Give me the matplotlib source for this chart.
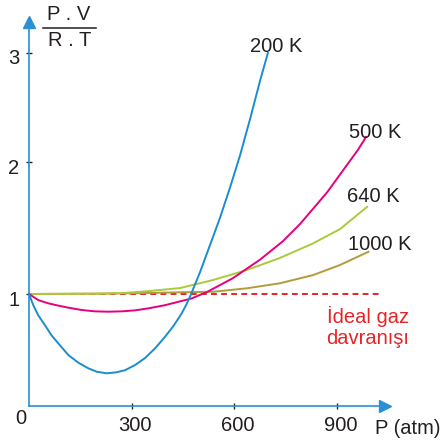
import numpy as np
import matplotlib
matplotlib.use("Agg")
import matplotlib.pyplot as plt
from matplotlib.transforms import ScaledTranslation
from matplotlib.lines import Line2D

plt.rcParams['font.family'] = ['Liberation Sans', 'DejaVu Sans']

# P (atm) and P.V/(R.T)
p_200 = [0, 12.6, 27, 47, 66, 91, 115, 144, 173, 198, 227, 256, 281, 310, 339, 368, 397, 422,
         446, 460, 472, 500, 529, 558, 587, 617, 646, 675, 698]
z_200 = [1.0, 0.90, 0.81, 0.72, 0.63, 0.54, 0.455, 0.387, 0.337, 0.306, 0.292, 0.301, 0.32, 0.366,
         0.428, 0.513, 0.616, 0.714, 0.826, 0.906, 0.987, 1.167, 1.371, 1.576, 1.803, 2.064, 2.394,
         2.743, 3.0]

p_500 = [0, 27, 56, 86, 115, 154, 193, 232, 271, 310, 349, 397, 436, 475, 520, 596, 675, 742,
         792, 871, 961, 985]
z_500 = [1.0, 0.946, 0.917, 0.896, 0.878, 0.857, 0.845, 0.842, 0.845, 0.854, 0.872, 0.90, 0.93,
         0.96, 1.015, 1.12, 1.26, 1.40, 1.53, 1.77, 2.11, 2.23]

p_640 = [0, 207, 280, 354, 441, 538, 637, 733, 830, 909, 988]
z_640 = [1.0, 1.002, 1.008, 1.023, 1.045, 1.106, 1.182, 1.273, 1.383, 1.492, 1.66]

p_1000 = [0, 300, 441, 539, 636, 733, 831, 909, 992]
z_1000 = [1.0, 1.005, 1.013, 1.017, 1.043, 1.081, 1.144, 1.22, 1.32]

p_ideal = [0, 1030]
z_ideal = [1.0, 1.0]

x_ticks = [300, 600, 900]
y_ticks = [1, 2, 3]

c_axis = '#2a8fd3'
c_text = '#231f20'
W = 443


# the y axis of the drawing is not evenly spaced, so use a piecewise scale
knot_v = [-10, 0, 1, 2, 3, 13]
knot_h = [-1120, 0, 112, 244, 353, 1443]

def fwd(v):
    return np.interp(v, knot_v, knot_h)

def inv(h):
    return np.interp(h, knot_h, knot_v)


fig = plt.figure(figsize=(4.43, 4.43), dpi=100)
ax = fig.add_axes([29 / W, (W - 406) / W, (385 - 29) / W, (406 - 22) / W])
ax.set_yscale('function', functions=(fwd, inv))
ax.set_xlim(0, (385 - 29) / 0.3422)
ax.set_ylim(0, inv(406 - 22))

ax.plot(p_ideal, z_ideal, color='#e52528', lw=1.4, dashes=(3, 2.2), zorder=2)
ax.plot(p_1000, z_1000, color='#b39b3a', lw=1.4, zorder=3)
ax.plot(p_640, z_640, color='#a9cb3b', lw=1.4, zorder=3)
ax.plot(p_500, z_500, color='#e5007d', lw=1.4, zorder=4)
ax.plot(p_200, z_200, color='#1a8dd1', lw=1.4, zorder=5)

for s in ['top', 'right']:
    ax.spines[s].set_visible(False)
for s in ['left', 'bottom']:
    ax.spines[s].set_color(c_axis)
    ax.spines[s].set_linewidth(1.2)

# arrow heads
ax.plot(1, 0, '>', color=c_axis, ms=8, transform=ax.transAxes, clip_on=False)
ax.plot(0, 1, '^', color=c_axis, ms=8, transform=ax.transAxes, clip_on=False)

ax.set_xticks(x_ticks)
ax.set_xticklabels([str(t) for t in x_ticks])
ax.set_yticks(y_ticks)
ax.set_yticklabels([str(t) for t in y_ticks])
ax.minorticks_off()
ax.tick_params(direction='inout', length=5, width=1, color=c_text,
               labelsize=14.5, labelcolor=c_text, pad=4.5)

for lab in ax.get_xticklabels():
    lab.set_transform(lab.get_transform() + ScaledTranslation(0.035, 0, fig.dpi_scale_trans))
for lab in ax.get_yticklabels():
    lab.set_transform(lab.get_transform() + ScaledTranslation(0, -0.04, fig.dpi_scale_trans))


def px_text(x, y, s, **kw):
    fig.text(x / W, 1 - y / W, s, fontsize=14.5, color=c_text, **kw)


px_text(20.5, 418.5, '0', ha='center', va='center')
px_text(375, 434, 'P (atm)', ha='left', va='baseline')

# P.V / R.T fraction
px_text(69, 14, 'P . V', ha='center', va='center')
px_text(70, 41, 'R . T', ha='center', va='center')
fig.add_artist(Line2D([43 / W, 96 / W], [1 - 28 / W, 1 - 28 / W], color=c_text, lw=1.1))

px_text(250, 52, '200 K', ha='left', va='baseline')
px_text(349, 138, '500 K', ha='left', va='baseline')
px_text(347, 202, '640 K', ha='left', va='baseline')
px_text(348, 250, '1000 K', ha='left', va='baseline')

fig.text(327 / W, 1 - 323 / W, 'İdeal gaz', fontsize=14.5, color='#e52528', ha='left', va='baseline')
fig.text(326 / W, 1 - 344 / W, 'davranışı', fontsize=14.5, color='#e52528', ha='left', va='baseline')

fig.savefig('out.png', dpi=100)
